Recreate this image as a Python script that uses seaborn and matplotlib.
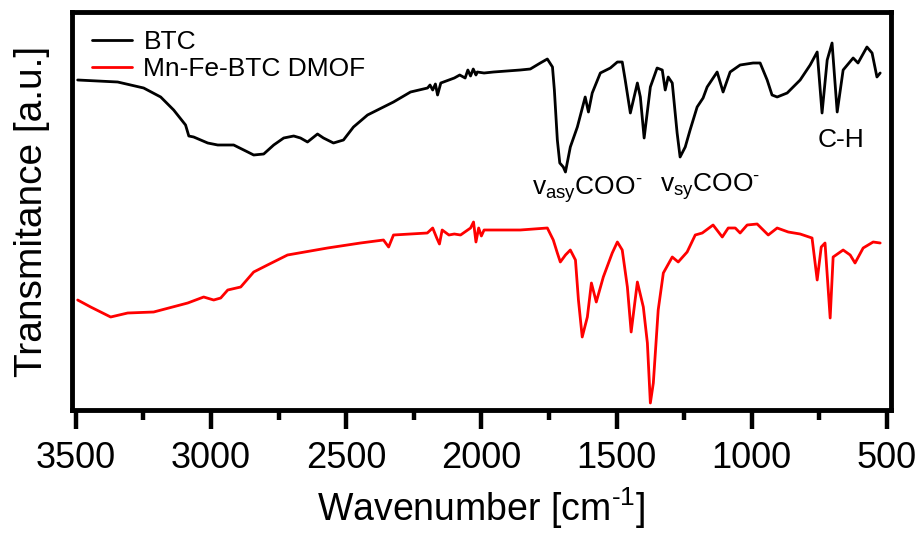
import numpy as np
import pandas as pd
import matplotlib
matplotlib.use("Agg")
import matplotlib.pyplot as plt
import seaborn as sns
from matplotlib.ticker import MultipleLocator

# ---- data ----
btc_wn = [3493, 3345, 3249, 3186, 3138, 3094, 3082, 3064, 3012, 2975, 2916, 2864, 2842,
          2805, 2768, 2731, 2694, 2669, 2643, 2606, 2584, 2547, 2510, 2473, 2421, 2362,
          2325, 2262, 2199, 2190, 2180, 2170, 2162, 2150, 2140, 2120, 2100, 2080, 2060,
          2050, 2040, 2030, 2020, 2015, 1990, 1955, 1856, 1819, 1782, 1756, 1737, 1730,
          1719, 1710, 1697, 1689, 1671, 1645, 1616, 1604, 1590, 1560, 1523, 1497, 1479,
          1468, 1449, 1423, 1412, 1398, 1375, 1350, 1331, 1320, 1309, 1294, 1276, 1265,
          1246, 1228, 1202, 1180, 1165, 1128, 1106, 1080, 1043, 995, 969, 943, 925, 906,
          869, 821, 784, 758, 740, 721, 703, 684, 662, 625, 607, 574, 555, 537, 525]
btc_t = [327, 325, 319, 310, 297, 282, 271, 270, 264, 262, 262, 255, 252,
         253, 262, 269, 271, 269, 265, 273, 269, 264, 267, 280, 292, 300,
         305, 315, 319, 322, 317, 323, 312, 324, 325, 327, 329, 332, 329,
         337, 331, 338, 332, 335, 334, 335, 337, 338, 344, 348, 340, 317,
         267, 244, 240, 235, 260, 280, 310, 295, 314, 334, 339, 345, 345,
         327, 294, 324, 310, 269, 320, 339, 337, 317, 330, 324, 274, 250,
         260, 277, 300, 309, 320, 335, 315, 335, 342, 344, 344, 327, 312, 310,
         314, 327, 342, 355, 294, 347, 364, 295, 337, 349, 344, 360, 354, 330, 334]

dmof_wn = [3493, 3445, 3371, 3308, 3212, 3086, 3027, 2990, 2964, 2938, 2890, 2842, 2791,
           2717, 2569, 2447, 2362, 2343, 2325, 2200, 2180, 2165, 2155, 2145, 2120, 2100,
           2077, 2040, 2029, 2020, 2010, 2000, 1990, 1955, 1856, 1756, 1734, 1719, 1708,
           1689, 1671, 1652, 1641, 1627, 1608, 1593, 1575, 1549, 1516, 1497, 1479, 1460,
           1446, 1423, 1401, 1386, 1375, 1364, 1346, 1327, 1294, 1272, 1239, 1209, 1183,
           1143, 1109, 1087, 1061, 1043, 1017, 980, 939, 906, 865, 821, 777, 758, 743,
           729, 710, 699, 662, 636, 618, 588, 551, 525]
dmof_t = [107, 100, 90, 94, 95, 104, 110, 107, 109, 117, 120, 135, 142,
          152, 159, 164, 167, 160, 172, 174, 179, 169, 163, 177, 172, 173,
          172, 179, 185, 165, 179, 171, 177, 177, 177, 179, 167, 154, 145,
          152, 157, 147, 107, 70, 90, 124, 105, 130, 154, 165, 157, 120,
          75, 125, 100, 64, 4, 24, 97, 134, 150, 145, 155, 172, 174,
          182, 170, 179, 179, 174, 182, 183, 172, 179, 175, 173, 169, 127, 160,
          164, 89, 150, 157, 152, 144, 159, 165, 164]

series_names = ["BTC", "Mn-Fe-BTC DMOF"]
series_colors = ["#000000", "#ff0000"]

# peak labels: (text, wavenumber of left edge, height of baseline)
label_texts = ["v$_{\\mathregular{asy}}$COO$^{\\mathregular{\u2010}}$",
               "v$_{\\mathregular{sy}}$COO$^{\\mathregular{\u2010}}$",
               "C-H"]
label_wn = [1811, 1338, 758]
label_t = [212, 215, 260]

df = pd.concat([
    pd.DataFrame({"wn": btc_wn, "T": btc_t, "sample": series_names[0]}),
    pd.DataFrame({"wn": dmof_wn, "T": dmof_t, "sample": series_names[1]}),
], ignore_index=True)

sns.set_style("ticks")
plt.rcParams["font.family"] = ["Liberation Sans", "DejaVu Sans"]
plt.rcParams["mathtext.fontset"] = "custom"
plt.rcParams["mathtext.rm"] = "Liberation Sans"
plt.rcParams["mathtext.it"] = "Liberation Sans:italic"
plt.rcParams["mathtext.bf"] = "Liberation Sans:bold"
for k in ["text.color", "axes.labelcolor", "xtick.color", "ytick.color", "axes.edgecolor"]:
    plt.rcParams[k] = "black"

fig = plt.figure(figsize=(9.22, 5.33), dpi=100)
ax = fig.add_axes([72 / 922, (533 - 410) / 533, 819 / 922, 398 / 533])

sns.lineplot(data=df, x="wn", y="T", hue="sample", palette=series_colors,
             hue_order=series_names, estimator=None, sort=True,
             linewidth=2.0, ax=ax)

ax.set_xlim(3514, 485)
ax.set_ylim(-3, 395)
ax.xaxis.set_major_locator(MultipleLocator(500))
ax.xaxis.set_minor_locator(MultipleLocator(250))
ax.set_yticks([])
ax.tick_params(axis="x", which="major", direction="out", length=14, width=3.2,
               labelsize=26, pad=8, colors="black")
ax.tick_params(axis="x", which="minor", direction="out", length=7, width=3.2,
               colors="black")
for sp in ax.spines.values():
    sp.set_visible(True)
    sp.set_linewidth(3.5)
    sp.set_color("black")

ax.set_xlabel("Wavenumber [cm$^{\\mathregular{\u2010}1}$]", fontsize=27, labelpad=7)
ax.set_ylabel("Transmitance [a.u.]", fontsize=28, labelpad=16)

leg = ax.legend(loc="upper left", frameon=False, fontsize=19, handlelength=1.5,
                handletextpad=0.45, borderaxespad=0.2, labelspacing=0.12,
                bbox_to_anchor=(0.005, 0.995))
for line in leg.get_lines():
    line.set_linewidth(2.0)

for txt, xw, yt in zip(label_texts, label_wn, label_t):
    ax.text(xw, yt, txt, fontsize=19, ha="left", va="baseline")

fig.savefig("out.png", dpi=100)
